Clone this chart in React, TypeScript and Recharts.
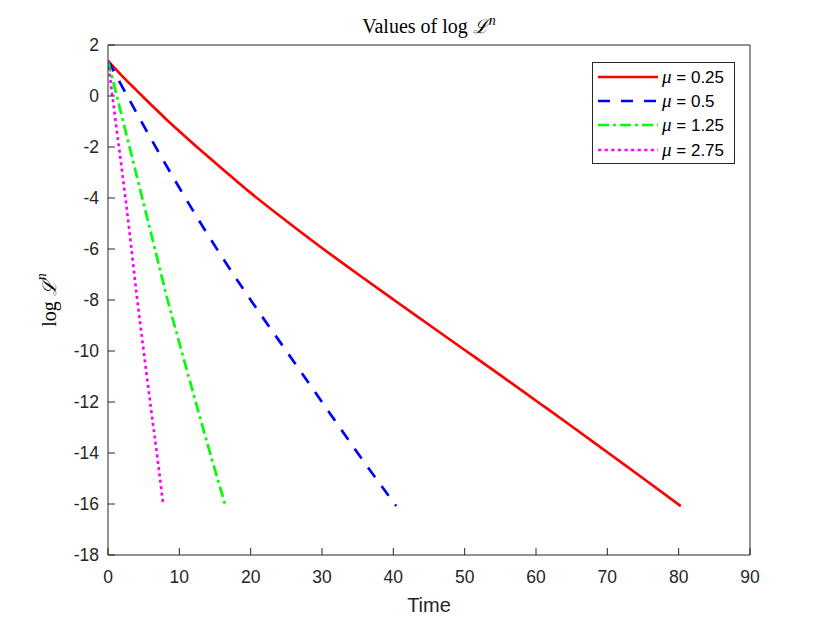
import React from 'react';
import { LineChart, Line, XAxis, YAxis, Legend, Label } from 'recharts';

// values
const timeTicks = [0, 10, 20, 30, 40, 50, 60, 70, 80, 90];
const valueTicks = [-18, -16, -14, -12, -10, -8, -6, -4, -2, 0, 2];

const redTime = [0, 2, 4, 6, 8, 10, 13, 16, 20, 25, 30, 35, 40, 45, 50, 55, 60, 65, 70, 75, 80.3];
const redValue = [1.38, 0.78, 0.22, -0.33, -0.87, -1.38, -2.13, -2.85, -3.8, -4.9, -5.96, -6.98, -7.98, -8.97, -9.96, -10.95, -11.95, -12.95, -13.97, -14.99, -16.08];

const blueTime = [0, 1, 2, 4, 6, 8, 10, 13, 16, 20, 25, 30, 35, 40.4];
const blueValue = [1.38, 0.88, 0.36, -0.66, -1.66, -2.64, -3.6, -4.99, -6.32, -8.0, -10.0, -12.0, -14.0, -16.08];

const greenTime = [0, 1, 2, 3, 4.8, 6.58, 8.36, 10, 12, 14, 16.48];
const greenValue = [1.38, 0.26, -0.86, -1.98, -4, -6, -8, -9.68, -11.7, -13.7, -16.08];

const magentaTime = [0, 1, 2, 3, 4, 5, 6, 7, 7.75];
const magentaValue = [1.38, -0.85, -3.0, -5.3, -7.75, -10.0, -12.2, -14.35, -16.05];

const toPoints = (ts: number[], vs: number[]) => ts.map((t, i) => ({ t, v: vs[i] }));

const series = [
  { mu: '0.25', color: '#ff0000', dash: undefined, legendDash: undefined, data: toPoints(redTime, redValue) },
  { mu: '0.5', color: '#0000ff', dash: '12 11', legendDash: '12 11', data: toPoints(blueTime, blueValue) },
  { mu: '1.25', color: '#00ff00', dash: '11 4 3 4', legendDash: '11 4 3 4', data: toPoints(greenTime, greenValue) },
  { mu: '2.75', color: '#ff00ff', dash: '3 3.4', legendDash: '3.3 3.3', data: toPoints(magentaTime, magentaValue) },
];

const axisColor = '#262626';
const sans = '"Liberation Sans", Arial, Helvetica, sans-serif';
const serif = '"Liberation Serif", "Times New Roman", serif';
const tickStyle = { fontFamily: sans, fontSize: 17.5, fill: axisColor };

const renderTitle = (props: any) => {
  const vb = props.viewBox || {};
  const cx = (vb.x ?? 108) + (vb.width ?? 642) / 2;
  return (
    <text x={cx} y={33} textAnchor="middle" fontFamily={serif} fontSize={20} fill="#000">
      <tspan>Values of log </tspan>
      <tspan fontFamily='"DejaVu Serif", serif' fontStyle="italic" fontSize={19}>ℒ</tspan>
      <tspan dy={-8} fontSize={14} fontStyle="italic">n</tspan>
    </text>
  );
};

const renderYLabel = () => (
  <text
    x={49}
    y={300}
    transform="rotate(-90 49 300)"
    textAnchor="middle"
    dominantBaseline="central"
    fontFamily={serif}
    fontSize={20}
    fill="#000"
  >
    <tspan>log </tspan>
    <tspan fontFamily='"DejaVu Serif", serif' fontStyle="italic" fontSize={19}>ℒ</tspan>
    <tspan dy={-8} fontSize={14} fontStyle="italic">n</tspan>
  </text>
);

const renderLegend = () => (
  <div
    style={{
      position: 'relative',
      width: 141,
      height: 100,
      border: `1px solid ${axisColor}`,
      background: '#fff',
      fontFamily: sans,
      fontSize: 17,
      color: '#000',
    }}
  >
    {series.map((s, i) => (
      <div
        key={s.mu}
        style={{ position: 'absolute', left: 0, top: 2 + i * 24.2, height: 24, display: 'flex', alignItems: 'center' }}
      >
        <svg width={69} height={24} style={{ display: 'block' }}>
          <line x1={5} x2={65} y1={12} y2={12} stroke={s.color} strokeWidth={2.7} strokeDasharray={s.legendDash} />
        </svg>
        <span style={{ whiteSpace: 'nowrap' }}>
          <span style={{ fontFamily: serif, fontStyle: 'italic', fontSize: 19 }}>μ</span> = {s.mu}
        </span>
      </div>
    ))}
  </div>
);

export default function App() {
  return (
    <div style={{ position: 'fixed', left: 0, top: 0, width: 830, height: 623, background: '#fff' }}>
      <LineChart width={830} height={623} margin={{ top: 44, right: 79, bottom: 0, left: 0 }}>
        <XAxis
          xAxisId="bottom"
          type="number"
          dataKey="t"
          domain={[0, 90]}
          ticks={timeTicks}
          height={68}
          tickSize={-7}
          tickMargin={23}
          stroke={axisColor}
          tick={tickStyle}
          allowDataOverflow
        >
          <Label value="Time" position="insideBottom" offset={11} fontFamily={sans} fontSize={20} fill={axisColor} />
        </XAxis>
        <XAxis
          xAxisId="top"
          orientation="top"
          type="number"
          dataKey="t"
          domain={[0, 90]}
          ticks={timeTicks}
          height={1}
          tickSize={-7}
          tick={false}
          stroke={axisColor}
          allowDataOverflow
        >
          <Label content={renderTitle} />
        </XAxis>
        <YAxis
          yAxisId="left"
          type="number"
          domain={[-18, 2]}
          ticks={valueTicks}
          width={108}
          tickSize={-7}
          tickMargin={16}
          stroke={axisColor}
          tick={tickStyle}
          allowDataOverflow
        >
          <Label content={renderYLabel} />
        </YAxis>
        <YAxis
          yAxisId="right"
          orientation="right"
          type="number"
          domain={[-18, 2]}
          ticks={valueTicks}
          width={1}
          tickSize={-7}
          tick={false}
          stroke={axisColor}
          allowDataOverflow
        />
        <Legend
          layout="vertical"
          align="center"
          verticalAlign="middle"
          content={renderLegend}
          wrapperStyle={{ left: 592, top: 62, width: 143, height: 102 }}
        />
        {series.map((s) => (
          <Line
            key={s.mu}
            name={`μ = ${s.mu}`}
            xAxisId="bottom"
            yAxisId="left"
            data={s.data}
            dataKey="v"
            type="monotone"
            stroke={s.color}
            strokeWidth={2.7}
            strokeDasharray={s.dash}
            dot={false}
            activeDot={false}
            isAnimationActive={false}
          />
        ))}
      </LineChart>
    </div>
  );
}
